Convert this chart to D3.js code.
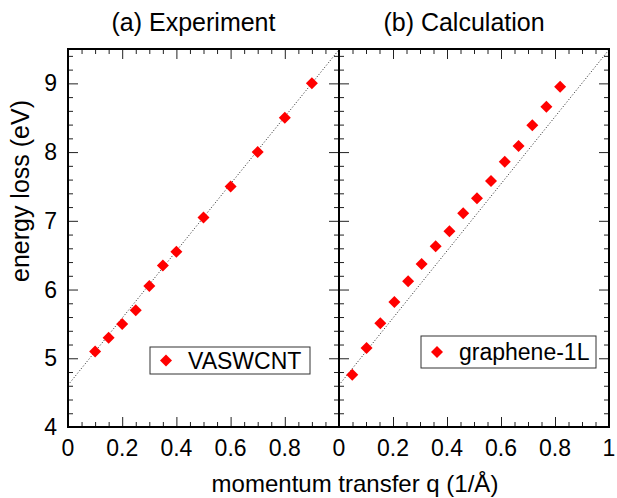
<!DOCTYPE html>
<html>
<head>
<meta charset="utf-8">
<script src="https://cdn.jsdelivr.net/npm/d3@7"></script>
<style>
  body { margin: 0; background: #fff; }
  text { font-family: "Liberation Sans", Arial, sans-serif; fill: #000; }
</style>
</head>
<body>
<div id="chart"></div>
<script>
// Data
const expQ = [0.1, 0.15, 0.2, 0.25, 0.3, 0.35, 0.4, 0.5, 0.6, 0.7, 0.8, 0.9];
const expE = [5.1, 5.3, 5.5, 5.7, 6.05, 6.35, 6.55, 7.05, 7.5, 8.0, 8.5, 9.0];

const calcQ = [0.049, 0.102, 0.153, 0.205, 0.256, 0.306, 0.358, 0.409, 0.46, 0.511, 0.563, 0.614, 0.665, 0.716, 0.768, 0.819];
const calcE = [4.76, 5.15, 5.51, 5.82, 6.12, 6.37, 6.63, 6.85, 7.11, 7.33, 7.58, 7.86, 8.09, 8.39, 8.66, 8.95];

// dotted guide line (same in both panels)
const guideQ = [0, 1];
const guideE = [4.61, 9.49];

const panelTitles = ["(a) Experiment", "(b) Calculation"];
const legendNames = ["VASWCNT", "graphene-1L"];
const yTicks = [4, 5, 6, 7, 8, 9];
const xTicksA = [0, 0.2, 0.4, 0.6, 0.8];
const xTicksB = [0, 0.2, 0.4, 0.6, 0.8, 1];

// Layout
const W = 617, H = 498;
const plotTop = 49, plotBottom = 427;
const panels = [
  { x0: 68, x1: 339, q: expQ, e: expE, xt: xTicksA, legend: { x: 150, y: 347, w: 160, h: 27 } },
  { x0: 339, x1: 609, q: calcQ, e: calcE, xt: xTicksB, legend: { x: 421, y: 336, w: 175, h: 32 } }
];

const y = d3.scaleLinear().domain([4, 9.5]).range([plotBottom, plotTop]);

const svg = d3.select("#chart")
  .append("svg")
    .attr("width", W)
    .attr("height", H);

const diamond = d3.symbol().type(d3.symbolSquare).size(72);

panels.forEach((p, i) => {
  const x = d3.scaleLinear().domain([0, 1]).range([p.x0, p.x1]);
  const g = svg.append("g");

  const clipId = "clip" + i;
  svg.append("clipPath").attr("id", clipId)
    .append("rect")
      .attr("x", p.x0).attr("y", plotTop)
      .attr("width", p.x1 - p.x0).attr("height", plotBottom - plotTop);

  // ticks on all four sides, pointing inward
  const xMinor = d3.range(0, 1.0001, 0.05);
  const yMinor = d3.range(4, 9.5001, 0.2);
  const isMajorX = v => Math.abs(v / 0.2 - Math.round(v / 0.2)) < 1e-6;
  const isMajorY = v => Math.abs(v - Math.round(v)) < 1e-6;

  g.append("g").attr("transform", `translate(0,${plotBottom})`)
    .call(d3.axisTop(x).tickValues(xMinor).tickSizeOuter(0).tickFormat(""))
    .call(a => a.select(".domain").remove())
    .call(a => a.selectAll(".tick line").attr("y2", d => isMajorX(d) ? -10 : -5).attr("stroke", "#222"));
  g.append("g").attr("transform", `translate(0,${plotTop})`)
    .call(d3.axisBottom(x).tickValues(xMinor).tickSizeOuter(0).tickFormat(""))
    .call(a => a.select(".domain").remove())
    .call(a => a.selectAll(".tick line").attr("y2", d => isMajorX(d) ? 10 : 5).attr("stroke", "#222"));
  g.append("g").attr("transform", `translate(${p.x0},0)`)
    .call(d3.axisRight(y).tickValues(yMinor).tickSizeOuter(0).tickFormat(""))
    .call(a => a.select(".domain").remove())
    .call(a => a.selectAll(".tick line").attr("x2", d => isMajorY(d) ? 10 : 5).attr("stroke", "#222"));
  g.append("g").attr("transform", `translate(${p.x1},0)`)
    .call(d3.axisLeft(y).tickValues(yMinor).tickSizeOuter(0).tickFormat(""))
    .call(a => a.select(".domain").remove())
    .call(a => a.selectAll(".tick line").attr("x2", d => isMajorY(d) ? -10 : -5).attr("stroke", "#222"));

  // x tick labels
  g.selectAll(".xlab")
    .data(p.xt)
    .join("text")
      .attr("x", d => x(d))
      .attr("y", plotBottom + 29)
      .attr("text-anchor", "middle")
      .style("font-size", "23px")
      .text(d => d3.format("~g")(d));

  // dotted guide line
  const guide = guideQ.map((q, k) => ({ q: q, e: guideE[k] }));
  g.append("path")
    .datum(guide)
    .attr("clip-path", `url(#${clipId})`)
    .attr("fill", "none")
    .attr("stroke", "#222")
    .attr("stroke-width", 1)
    .attr("stroke-dasharray", "1,2")
    .attr("d", d3.line().x(d => x(d.q)).y(d => y(d.e)));

  // data markers
  g.selectAll(".pt")
    .data(p.q.map((q, k) => ({ q: q, e: p.e[k] })))
    .join("path")
      .attr("transform", d => `translate(${x(d.q)},${y(d.e)}) rotate(45)`)
      .attr("d", diamond)
      .attr("fill", "#ff0000");

  // frame
  g.append("rect")
    .attr("x", p.x0).attr("y", plotTop)
    .attr("width", p.x1 - p.x0).attr("height", plotBottom - plotTop)
    .attr("fill", "none")
    .attr("stroke", "#000")
    .attr("stroke-width", 2);

  // legend
  const L = p.legend;
  const lg = g.append("g");
  lg.append("rect")
    .attr("x", L.x).attr("y", L.y).attr("width", L.w).attr("height", L.h)
    .attr("fill", "#fff").attr("stroke", "#333").attr("stroke-width", 1);
  lg.append("path")
    .attr("transform", `translate(${L.x + 16},${L.y + L.h / 2}) rotate(45)`)
    .attr("d", diamond)
    .attr("fill", "#ff0000");
  lg.append("text")
    .attr("x", L.x + 38)
    .attr("y", L.y + L.h / 2 + 8)
    .style("font-size", "23px")
    .text(legendNames[i]);

  // panel title
  svg.append("text")
    .attr("x", (p.x0 + p.x1) / 2 - 10)
    .attr("y", 31)
    .attr("text-anchor", "middle")
    .style("font-size", "25px")
    .text(panelTitles[i]);
});

// y tick labels (left panel only)
svg.selectAll(".ylab")
  .data(yTicks)
  .join("text")
    .attr("x", 57)
    .attr("y", d => y(d) + 8)
    .attr("text-anchor", "end")
    .style("font-size", "23px")
    .text(d => d);

// axis titles
svg.append("text")
  .attr("transform", `translate(29,${(plotTop + plotBottom) / 2 - 47}) rotate(-90)`)
  .attr("text-anchor", "middle")
  .style("font-size", "25px")
  .text("energy loss (eV)");

svg.append("text")
  .attr("x", 355)
  .attr("y", 492)
  .attr("text-anchor", "middle")
  .style("font-size", "24px")
  .text("momentum transfer q (1/Å)");
</script>
</body>
</html>
